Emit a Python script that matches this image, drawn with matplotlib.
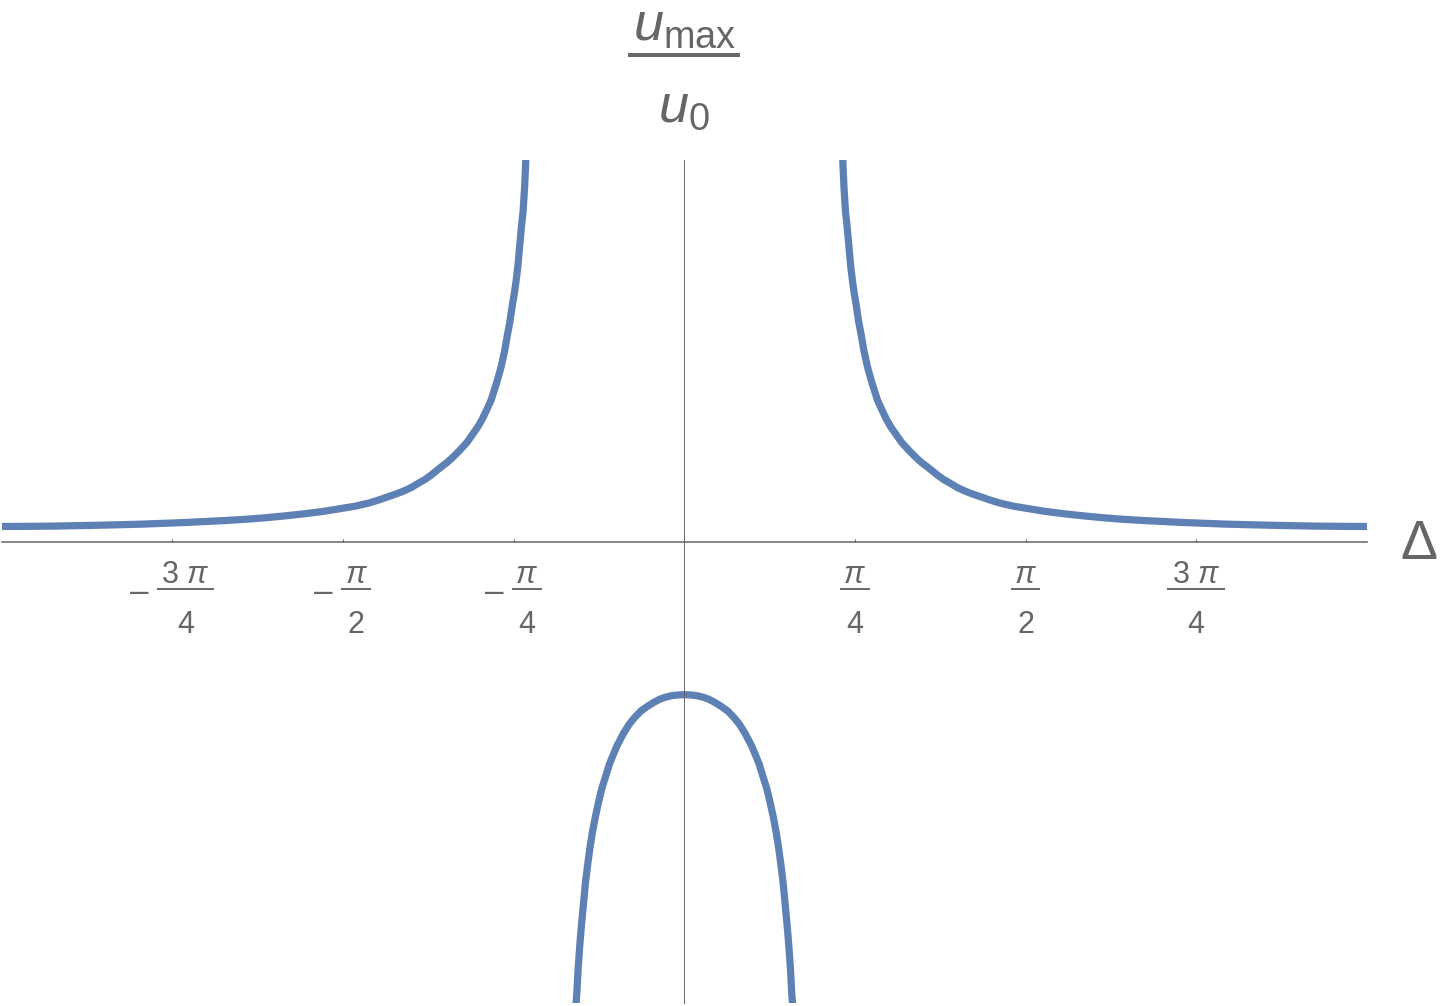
import numpy as np
import matplotlib
matplotlib.use("Agg")
import matplotlib.pyplot as plt
from matplotlib.lines import Line2D
from matplotlib.transforms import Affine2D, ScaledTranslation

plt.rcParams['font.family'] = ['Liberation Sans', 'DejaVu Sans']
plt.rcParams['mathtext.fontset'] = 'custom'
plt.rcParams['mathtext.rm'] = 'Liberation Sans'
plt.rcParams['mathtext.it'] = 'Liberation Sans:italic'
plt.rcParams['mathtext.bf'] = 'Liberation Sans:bold'
plt.rcParams['mathtext.sf'] = 'Liberation Sans'

# values (curve is symmetric in Delta)
delta_upper = [0.728, 0.731, 0.735, 0.742, 0.749, 0.757, 0.766, 0.776, 0.783, 0.791,
               0.803, 0.813, 0.827, 0.843, 0.854, 0.865, 0.877, 0.889, 0.910, 0.930,
               0.950, 0.971, 1.000, 1.032, 1.053, 1.075, 1.095, 1.117, 1.145, 1.170,
               1.195, 1.224, 1.255, 1.290, 1.325, 1.362, 1.405, 1.454, 1.515, 1.583,
               1.660, 1.750, 1.830, 1.922, 2.000, 2.100, 2.200, 2.300, 2.400, 2.500,
               2.600, 2.700, 2.800, 2.900, 3.000, 3.142]
ratio_upper = [14.3, 13.7, 13.0, 12.1, 11.6, 10.9, 10.1, 9.45, 9.07, 8.7,
               8.05, 7.64, 7.0, 6.42, 6.1, 5.8, 5.5, 5.2, 4.83, 4.5,
               4.22, 3.98, 3.65, 3.37, 3.2, 3.03, 2.89, 2.76, 2.58, 2.42,
               2.28, 2.15, 2.0, 1.87, 1.76, 1.66, 1.54, 1.42, 1.31, 1.22,
               1.12, 1.03, 0.96, 0.89, 0.84, 0.79, 0.75, 0.71, 0.68, 0.65,
               0.63, 0.61, 0.595, 0.58, 0.572, 0.565]

delta_lower = [0.0, 0.03, 0.06, 0.09, 0.111, 0.14, 0.17, 0.20, 0.23, 0.255,
               0.28, 0.295, 0.31, 0.328, 0.345, 0.355, 0.365, 0.38, 0.395, 0.41,
               0.423, 0.434, 0.445, 0.455, 0.468, 0.475, 0.482, 0.489, 0.495, 0.505]
ratio_lower = [-5.60, -5.61, -5.64, -5.70, -5.76, -5.88, -6.03, -6.20, -6.45, -6.70,
               -7.02, -7.25, -7.48, -7.82, -8.15, -8.42, -8.67, -9.05, -9.55, -10.1,
               -10.65, -11.2, -11.85, -12.5, -13.6, -14.2, -14.9, -15.7, -16.6, -17.6]

tick_pos = [-3 * np.pi / 4, -np.pi / 2, -np.pi / 4, np.pi / 4, np.pi / 2, 3 * np.pi / 4]
tick_num = [r'$3\ \pi$', r'$\pi$', r'$\pi$', r'$\pi$', r'$\pi$', r'$3\ \pi$']
tick_den = ['4', '2', '4', '4', '2', '4']

blue = '#5e81b5'
grey = '#666666'

fig = plt.figure(figsize=(14.4, 10.06), dpi=100)
ax = fig.add_axes([0.0012, 0.003, 0.948, 0.838])

du = np.array(delta_upper)
ru = np.array(ratio_upper)
dl = np.array(delta_lower)
rl = np.array(ratio_lower)

kw = dict(color=blue, lw=5.2, solid_joinstyle='round', solid_capstyle='butt')
ax.plot(du, ru, **kw)
ax.plot(-du, ru, **kw)
ax.plot(np.concatenate([-dl[::-1], dl[1:]]), np.concatenate([rl[::-1], rl[1:]]), **kw)

ax.set_xlim(-np.pi, np.pi)
ax.set_ylim(-16.9, 14.0)

for s in ['top', 'right']:
    ax.spines[s].set_visible(False)
ax.spines['bottom'].set_position(('data', 0))
ax.spines['left'].set_position(('data', 0))
ax.spines['bottom'].set_color(grey)
ax.spines['left'].set_color(grey)
ax.spines['bottom'].set_linewidth(1.1)
ax.spines['left'].set_linewidth(0.7)

ax.set_xticks(tick_pos)
ax.set_yticks([])
ax.tick_params(axis='x', direction='in', length=2.5, width=0.8, color=grey, labelbottom=False)


def at_point(x, y):
    # offsets in points around a data point
    return Affine2D().scale(1 / 72) + fig.dpi_scale_trans + ScaledTranslation(x, y, ax.transData)


# Mathematica-style stacked fraction tick labels
fs = 22
for t, num, den in zip(tick_pos, tick_num, tick_den):
    w = 40 if num.startswith('$3') else 20
    cx = 9.4 if t < 0 else 0
    ax.annotate(num, xy=(t, 0), xytext=(cx, -29.5), textcoords='offset points',
                ha='center', va='baseline', fontsize=fs, color=grey)
    ax.annotate(den, xy=(t, 0), xytext=(cx, -65.5), textcoords='offset points',
                ha='center', va='baseline', fontsize=fs, color=grey)
    ax.add_artist(Line2D([cx - w / 2, cx + w / 2], [-34, -34], transform=at_point(t, 0),
                         color=grey, lw=1.4, clip_on=False))
    if t < 0:
        ax.annotate('\u2013', xy=(t, 0), xytext=(cx - w / 2 - 13.3, -42.5),
                    textcoords='offset points', ha='center', va='baseline',
                    fontsize=24, color=grey)

ax.annotate('Δ', xy=(1, 0), xycoords=('axes fraction', 'data'), xytext=(24, -2),
            textcoords='offset points', fontsize=40, color=grey, ha='left', va='center')

# axis label u_max / u_0 on top of the vertical axis
ax.annotate(r'$u_{\mathrm{max}}$', xy=(0, 1), xycoords=('data', 'axes fraction'),
            xytext=(0, 87), textcoords='offset points', fontsize=39, color=grey,
            ha='center', va='baseline')
ax.annotate(r'$u_0$', xy=(0, 1), xycoords=('data', 'axes fraction'),
            xytext=(0, 27.4), textcoords='offset points', fontsize=39, color=grey,
            ha='center', va='baseline')
ax.add_artist(Line2D([-38.9, 38.9], [75.6, 75.6], transform=at_point(0, ax.get_ylim()[1]),
                     color=grey, lw=2.9, clip_on=False))

fig.savefig('out.png', dpi=100)
